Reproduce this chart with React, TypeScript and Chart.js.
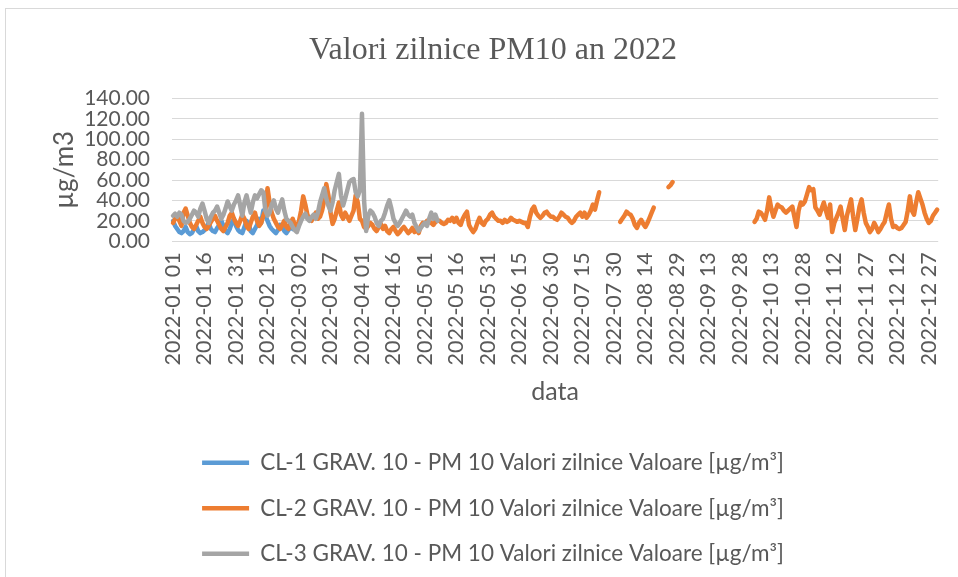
import React, { useEffect, useRef } from "react";
import { Chart, registerables } from "chart.js";

Chart.register(...registerables);

const TITLE = "Valori zilnice PM10 an 2022";
const Y_TITLE = "µg/m3";
const X_TITLE = "data";
const SERIES_NAMES = [
  "CL-1 GRAV. 10 - PM 10 Valori zilnice Valoare [µg/m³]",
  "CL-2 GRAV. 10 - PM 10 Valori zilnice Valoare [µg/m³]",
  "CL-3 GRAV. 10 - PM 10 Valori zilnice Valoare [µg/m³]",
];
const COLORS = ["#5b9bd5", "#ed7d31", "#a5a5a5"];

const YEAR = 2022;
const DAYS_IN_YEAR = 365;
const TICK_EVERY = 15;
const Y_MIN = 0;
const Y_MAX = 140;
const Y_STEP = 20;

// CL-1 (Jan 1 .. Feb 27)
const cl1Values: (number | null)[] = [
  20, 15, 12, 9, 8, 10, 14, 9, 7, 8,
  12, 15, 10, 8, 9, 11, 14, 18, 12, 10,
  9, 13, 16, 20, 15, 10, 8, 12, 18, 22,
  15, 11, 9, 8, 14, 20, 17, 10, 8, 12,
  16, 22, 18, 30, 25, 20, 15, 12, 10, 8,
  11, 16, 14, 10, 8, 11, 14, 12,
];

// CL-2 (whole year, with gaps)
const cl2Values: (number | null)[] = [
  18, 22, 25, 20, 15, 28, 32, 25, 18, 14,
  12, 16, 20, 24, 18, 14, 12, 15, 19, 22,
  25, 20, 16, 12, 10, 14, 18, 25, 28, 22,
  18, 15, 20, 26, 22, 15, 12, 18, 24, 28,
  20, 15, 18, 25, 30, 52, 38, 28, 22, 18,
  14, 12, 16, 20, 14, 12, 18, 22, 16, 14,
  20, 30, 44, 36, 26, 22, 20, 24, 28, 22,
  24, 30, 40, 56, 45, 28, 17, 22, 30, 38,
  26, 22, 28, 24, 20, 25, 30, 45, 38, 22,
  20, 14, 12, 15, 18, 16, 12, 10, 14, 17,
  12, 15, 10, 8, 12, 14, 10, 7, 9, 12,
  14, 11, 8, 10, 13, 9, 12, 8, 15, 18,
  17, 20, 19, 18, 16, 19, 20, 20, 18, 17,
  18, 21, 20, 23, 19, 23, 18, 16, 22, 26,
  29, 16, 12, 9, 12, 18, 23, 18, 16, 20,
  22, 26, 28, 24, 22, 20, 20, 18, 21, 19,
  20, 23, 21, 20, 19, 20, 19, 18, 18, 14,
  24, 31, 34, 28, 25, 23, 25, 28, 29, 26,
  24, 24, 22, 21, 24, 28, 26, 24, 23, 20,
  18, 20, 24, 26, 28, 24, 28, 23, 26, 30,
  36, 31, 40, 48, null, null, null, null, null, null,
  null, null, null, 19, 22, 25, 29, 27, 26, 22,
  16, 13, 18, 21, 17, 14, 18, 23, 28, 33,
  null, null, null, null, null, null, 53, 55, 58, null,
  null, null, null, null, null, null, null, null, null, null,
  null, null, null, null, null, null, null, null, null, null,
  null, null, null, null, null, null, null, null, null, null,
  null, null, null, null, null, null, null, 19, 22, 29,
  28, 25, 21, 30, 43, 32, 24, 30, 36, 34,
  33, 30, 28, 30, 32, 34, 24, 14, 30, 38,
  36, 39, 46, 53, 50, 51, 33, 30, 26, 32,
  38, 30, 23, 36, 9, 18, 23, 28, 34, 22,
  11, 25, 33, 41, 24, 11, 22, 34, 41, 28,
  18, 14, 9, 12, 18, 14, 9, 12, 16, 19,
  28, 36, 22, 14, 15, 13, 12, 13, 16, 19,
  30, 44, 30, 26, 38, 48, 42, 36, 28, 22,
  18, 20, 25, 28, 31,
];

// CL-3 (Jan 1 .. May 7)
const cl3Values: (number | null)[] = [
  25, 27, 24, 28, 26, 20, 18, 19, 22, 26,
  30, 28, 24, 32, 37, 30, 22, 18, 24, 28,
  30, 34, 28, 22, 26, 32, 39, 34, 30, 36,
  40, 45, 35, 25, 38, 45, 36, 28, 38, 45,
  42, 46, 50, 48, 30, 25, 28, 36, 40, 32,
  28, 35, 41, 30, 22, 20, 18, 14, 11, 9,
  15, 20, 24, 27, 22, 20, 24, 26, 22, 28,
  38, 45, 52, 42, 35, 30, 38, 50, 58, 66,
  45, 35, 42, 50, 58, 60, 61, 48, 44, 50,
  125, 40, 10, 25, 30, 28, 24, 18, 15, 20,
  22, 28, 35, 40, 32, 22, 18, 15, 18, 22,
  26, 30, 26, 24, 26, 18, 14, 10, 13, 16,
  18, 15, 22, 28, 22, 26, 20,
];

function pad(n: number) {
  return n < 10 ? "0" + n : String(n);
}

function buildDates(): string[] {
  const out: string[] = [];
  for (let i = 0; i < DAYS_IN_YEAR; i++) {
    const d = new Date(Date.UTC(YEAR, 0, 1 + i));
    out.push(`${d.getUTCFullYear()}-${pad(d.getUTCMonth() + 1)} ${pad(d.getUTCDate())}`);
  }
  return out;
}

function fill(vals: (number | null)[]): (number | null)[] {
  const out: (number | null)[] = [];
  for (let i = 0; i < DAYS_IN_YEAR; i++) out.push(i < vals.length ? vals[i] : null);
  return out;
}

const FONT = "Lato, 'Open Sans', sans-serif";
const TEXT = "#595959";

export default function App() {
  const ref = useRef<HTMLCanvasElement | null>(null);

  useEffect(() => {
    if (!ref.current) return;
    const labels = buildDates();
    const series = [cl1Values, cl2Values, cl3Values];
    const chart = new Chart(ref.current, {
      type: "line",
      data: {
        labels,
        datasets: series.map((vals, i) => ({
          label: SERIES_NAMES[i],
          data: fill(vals),
          borderColor: COLORS[i],
          backgroundColor: COLORS[i],
          borderWidth: 4.5,
          pointRadius: 0,
          pointStyle: "line",
          tension: 0,
          spanGaps: false,
          borderJoinStyle: "round",
          borderCapStyle: "round",
          order: 2 - i,
        })),
      },
      options: {
        responsive: false,
        animation: false,
        devicePixelRatio: 1,
        layout: { padding: { left: 38, right: 32, top: 0, bottom: 2 } },
        plugins: {
          tooltip: { enabled: false },
          title: {
            display: true,
            text: TITLE,
            color: TEXT,
            font: { family: "'Liberation Serif', serif", size: 32, weight: "normal" },
            padding: { top: 22, bottom: 29 },
          },
          legend: {
            position: "bottom",
            labels: {
              color: TEXT,
              font: { family: FONT, size: 22.5 },
              usePointStyle: true,
              pointStyleWidth: 47,
              padding: 23,
              sort: (a: any, b: any) => a.datasetIndex - b.datasetIndex,
            },
          },
        },
        scales: {
          x: {
            type: "category",
            offset: true,
            grid: { display: false, drawTicks: false },
            border: { display: false },
            ticks: {
              autoSkip: false,
              minRotation: 90,
              maxRotation: 90,
              padding: 11,
              color: TEXT,
              font: { family: FONT, size: 21.5 },
              callback: (_v: any, idx: number) => (idx % TICK_EVERY === 0 ? labels[idx] : ""),
            },
            title: {
              display: true,
              text: X_TITLE,
              color: TEXT,
              font: { family: FONT, size: 25 },
              padding: { top: 0, bottom: 22 },
            },
          },
          y: {
            min: Y_MIN,
            max: Y_MAX,
            afterFit: (s: any) => {
              s.width = 128;
            },
            grid: { color: "#d9d9d9", lineWidth: 1, drawTicks: false },
            border: { display: false },
            ticks: {
              stepSize: Y_STEP,
              autoSkip: false,
              padding: 22,
              color: TEXT,
              font: { family: FONT, size: 21 },
              callback: (v: any) => Number(v).toFixed(2),
            },
            title: {
              display: true,
              text: Y_TITLE,
              color: TEXT,
              font: { family: FONT, size: 26 },
              padding: { top: 5, bottom: 4 },
            },
          },
        },
      },
    });
    return () => chart.destroy();
  }, []);

  return (
    <div
      style={{
        position: "fixed",
        left: 0,
        top: 0,
        width: 958,
        height: 577,
        overflow: "hidden",
        background: "#ffffff",
      }}
    >
      <div
        style={{
          position: "absolute",
          left: 5,
          top: 8,
          width: 1000,
          height: 600,
          borderLeft: "1px solid #d9d9d9",
          borderTop: "1px solid #d9d9d9",
        }}
      >
        <canvas ref={ref} width={968} height={568} style={{ display: "block" }} />
      </div>
    </div>
  );
}
